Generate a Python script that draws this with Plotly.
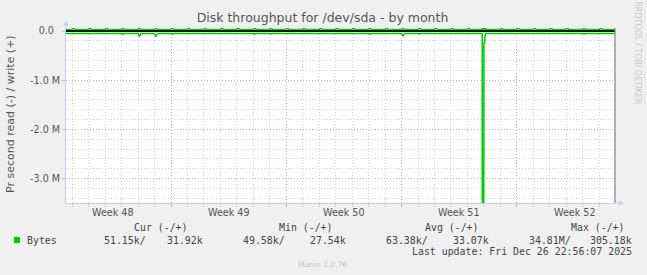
import plotly.graph_objects as go

# ---------------- data ----------------
title_text = "Disk throughput for /dev/sda - by month"
y_label = "Pr second read (-) / write (+)"
x_start = "2025-11-23 15:00"
x_end = "2025-12-26 23:00"

week_bounds = ["2025-11-30", "2025-12-07", "2025-12-14", "2025-12-21"]
week_centers = ["2025-11-26 12:00", "2025-12-03 12:00", "2025-12-10 12:00",
                "2025-12-17 12:00", "2025-12-24 12:00"]
week_labels = ["Week 48", "Week 49", "Week 50", "Week 51", "Week 52"]

y_tickvals = [0, -1e6, -2e6, -3e6]
y_ticktext = ["0.0\u2007", "-1.0 M", "-2.0 M", "-3.0 M"]

days = ["2025-11-24", "2025-11-25", "2025-11-26", "2025-11-27", "2025-11-28",
        "2025-11-29", "2025-11-30", "2025-12-01", "2025-12-02", "2025-12-03",
        "2025-12-04", "2025-12-05", "2025-12-06", "2025-12-07", "2025-12-08",
        "2025-12-09", "2025-12-10", "2025-12-11", "2025-12-12", "2025-12-13",
        "2025-12-14", "2025-12-15", "2025-12-16", "2025-12-17", "2025-12-18",
        "2025-12-19", "2025-12-20", "2025-12-21", "2025-12-22", "2025-12-23",
        "2025-12-24", "2025-12-25", "2025-12-26"]
# write (+) daily baseline and early-morning peak, bytes/s
write_base = [30500, 31000, 30800, 31200, 30900, 31500, 32000, 31800, 31000, 30700,
              31300, 31100, 30900, 32200, 31600, 31400, 31000, 30800, 31200, 31500,
              31900, 31300, 31100, 30900, 31400, 31700, 31200, 31000, 31600, 31800,
              31500, 31900, 31920]
write_peak = [68000, 62000, 70000, 65000, 60000, 58000, 72000, 66000, 60000, 64000,
              67000, 61000, 63000, 70000, 66000, 62000, 64000, 68000, 60000, 66000,
              62000, 69000, 65000, 63000, 60000, 68000, 61000, 70000, 64000, 62000,
              67000, 63000, 60000]
# read (-) daily baseline and early-morning dip, bytes/s
read_base = [-51000, -50500, -51500, -50800, -51200, -52000, -51000, -50600, -51400, -50900,
             -51100, -51600, -50700, -51300, -51000, -50800, -51500, -51200, -50900, -51400,
             -51000, -51700, -51100, -50800, -51300, -51000, -51500, -50900, -51200, -51100,
             -51400, -51000, -51150]
read_dip = [-62000, -60000, -64000, -66000, -112000, -118000, -63000, -61000, -65000, -62000,
            -60000, -64000, -61000, -63000, -62000, -60000, -65000, -61000, -63000, -62000,
            -104000, -61000, -64000, -62000, -60000, -52000, -61000, -65000, -62000, -60000,
            -63000, -61000, -62000]

spike_times = ["2025-12-18 21:30", "2025-12-18 22:00", "2025-12-18 23:00",
               "2025-12-19 00:00", "2025-12-19 01:00"]
spike_read = [-51300, -34810000, -270000, -260000, -250000]
spike_write = [31400, 305180, 50000, 45000, 33000]

legend_label = "Bytes"
stat_headers = ["Cur (-/+)", "Min (-/+)", "Avg (-/+)", "Max (-/+)"]
stat_values = ["51.15k/", "31.92k", "49.58k/", "27.54k", "63.38k/", "33.07k",
               "34.81M/", "305.18k"]
last_update = "Last update: Fri Dec 26 22:56:07 2025"
footer = "Munin 2.0.76"
side_text = "RRDTOOL / TOBI OETIKER"

# ---------------- build series ----------------
def build(base, peak, s_vals, start_val, end_val):
    pts = {x_start: start_val}
    for d, b, p in zip(days, base, peak):
        pts[d + " 00:00"] = b
        pts[d + " 02:00"] = p
        pts[d + " 04:00"] = b
    for t, v in zip(spike_times, s_vals):
        pts[t] = v
    pts[x_end] = end_val
    ks = sorted(pts)
    return ks, [pts[k] for k in ks]

wx, wy = build(write_base, write_peak, spike_write, write_base[0], write_base[-1])
rx, ry = build(read_base, read_dip, spike_read, read_base[0], read_base[-1])

GREEN = "#00CC00"
L, R, T, B = 66, 615, 28, 203
W, H = R - L, B - T

def px(x):
    return (x - L) / W

def py(y):
    return (B - y) / H

fig = go.Figure()
fig.add_trace(go.Scatter(x=wx, y=wy, mode="lines", line=dict(color=GREEN, width=1.5),
                         hoverinfo="skip", showlegend=False))
fig.add_trace(go.Scatter(x=rx, y=ry, mode="lines", line=dict(color=GREEN, width=1.5),
                         hoverinfo="skip", showlegend=False))

grid_minor = "#d4d4d4"
grid_major = "rgba(240,150,150,0.75)"
axis_col = "#c8ccf4"

fig.update_layout(
    width=647, height=275, autosize=False,
    margin=dict(l=L, r=647 - R, t=T, b=275 - B),
    paper_bgcolor="#f0f0f0", plot_bgcolor="#ffffff",
    font=dict(family="DejaVu Sans", color="#555555"),
    title=dict(text=title_text, x=322.5 / 647, xref="container", xanchor="center",
               y=1 - 18 / 275, yref="container", yanchor="middle",
               font=dict(size=12.5, color="#555555", family="DejaVu Sans")),
    showlegend=False,
    xaxis=dict(type="date", range=[x_start, x_end], tickvals=week_bounds,
               showticklabels=False, ticks="outside", ticklen=3, tickcolor=grid_major,
               showgrid=True, gridcolor=grid_major, griddash="1px,2px", gridwidth=1,
               showline=True, linecolor=axis_col, linewidth=1, zeroline=False,
               minor=dict(dtick=86400000, tick0="2025-11-23", showgrid=True,
                          gridcolor=grid_minor, griddash="1px,2px", gridwidth=1,
                          ticks="outside", ticklen=3, tickcolor=grid_minor)),
    yaxis=dict(range=[-3.496e6, 0.061e6], tickvals=y_tickvals, ticktext=y_ticktext,
               ticks="outside", ticklen=3, tickcolor=grid_major,
               tickfont=dict(size=9.6, color="#555555"),
               showgrid=True, gridcolor=grid_major, griddash="1px,2px", gridwidth=1,
               showline=True, linecolor=axis_col, linewidth=1,
               zeroline=True, zerolinecolor="#000000", zerolinewidth=1.6,
               minor=dict(dtick=200000, tick0=0, showgrid=True, gridcolor=grid_minor,
                          griddash="1px,2px", gridwidth=1)),
)

shapes = []
# right border
shapes.append(dict(type="line", xref="paper", yref="paper", x0=1, x1=1, y0=0, y1=1,
                   line=dict(color="#888888", width=1.3), layer="above"))
# axis extensions and arrows
shapes.append(dict(type="line", xref="paper", yref="paper", x0=0, x1=0, y0=1, y1=py(24),
                   line=dict(color=axis_col, width=1)))
shapes.append(dict(type="path", xref="paper", yref="paper",
                   path=f"M {px(63.5)} {py(25.5)} L {px(68.5)} {py(25.5)} L {px(66)} {py(20.5)} Z",
                   fillcolor=axis_col, line=dict(width=0)))
shapes.append(dict(type="line", xref="paper", yref="paper", x0=1, x1=px(620), y0=0, y1=0,
                   line=dict(color=axis_col, width=1)))
shapes.append(dict(type="path", xref="paper", yref="paper",
                   path=f"M {px(619)} {py(200.5)} L {px(619)} {py(205.5)} L {px(624)} {py(203)} Z",
                   fillcolor=axis_col, line=dict(width=0)))
# legend swatch
shapes.append(dict(type="rect", xref="paper", yref="paper", x0=px(14), x1=px(20),
                   y0=py(243), y1=py(237), fillcolor=GREEN, line=dict(width=0)))
fig.update_layout(shapes=shapes)

ann = []
for c, t in zip(week_centers, week_labels):
    ann.append(dict(x=c, xref="x", y=py(212.7), yref="paper", text=t, showarrow=False,
                    xanchor="center", yanchor="middle",
                    font=dict(size=9.6, color="#555555")))
ann.append(dict(x=px(10.5), y=py(114.5), xref="paper", yref="paper", text=y_label,
                textangle=-90, showarrow=False, xanchor="center", yanchor="middle",
                font=dict(size=11, color="#555555")))
ann.append(dict(x=px(637.7), y=py(53), xref="paper", yref="paper", text=side_text,
                textangle=90, showarrow=False, xanchor="center", yanchor="middle",
                font=dict(size=8, color="#c8c8c8")))
mono = dict(family="DejaVu Sans Mono", size=9.9, color="#444444")
ann.append(dict(x=px(26), y=py(240), xref="paper", yref="paper", text=legend_label,
                showarrow=False, xanchor="left", yanchor="middle", borderpad=0, font=mono))
for r, t in zip([189, 334, 480, 626], stat_headers):
    ann.append(dict(x=px(r), y=py(227.3), xref="paper", yref="paper", text=t,
                    showarrow=False, xanchor="right", yanchor="middle", borderpad=0, font=mono))
for r, t in zip([146.7, 204, 285.7, 347.3, 429, 490, 571.7, 632.7], stat_values):
    ann.append(dict(x=px(r), y=py(240), xref="paper", yref="paper", text=t,
                    showarrow=False, xanchor="right", yanchor="middle", borderpad=0, font=mono))
ann.append(dict(x=px(632.7), y=py(251.7), xref="paper", yref="paper", text=last_update,
                showarrow=False, xanchor="right", yanchor="middle", borderpad=0, font=mono))
ann.append(dict(x=px(322.5), y=py(264), xref="paper", yref="paper", text=footer,
                showarrow=False, xanchor="center", yanchor="middle",
                font=dict(size=7.5, color="#c4c4c4")))
fig.update_layout(annotations=ann)

fig.write_html("out.html")
